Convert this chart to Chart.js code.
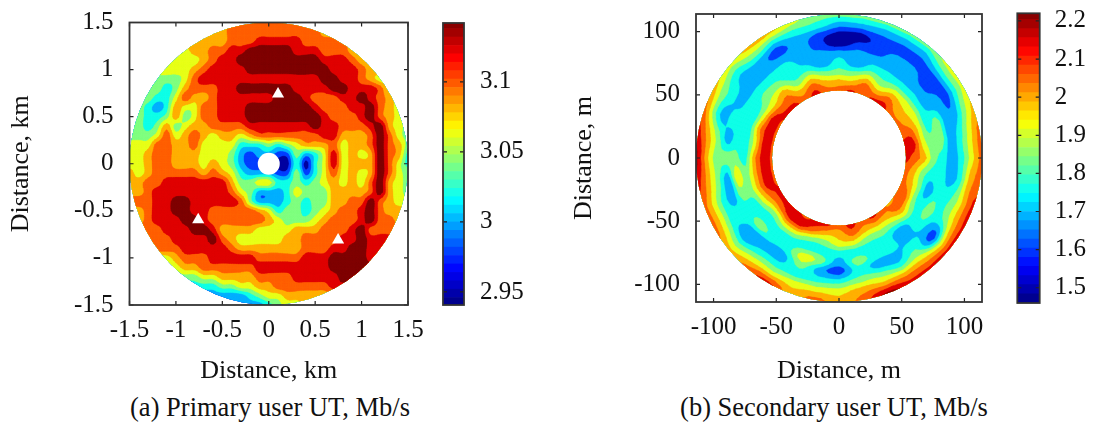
<!DOCTYPE html>
<html>
<head>
<meta charset="utf-8">
<title>Primary and secondary user UT</title>
<script src="https://cdn.jsdelivr.net/npm/chart.js@4/dist/chart.umd.js"></script>
<style>
  body { margin: 0; background: #fff; width: 1097px; height: 422px; overflow: hidden; position: relative; }
  canvas { position: absolute; top: 0; }
  .caption { position: absolute; top: 393px; width: 400px; text-align: center; font: 26.5px/28px 'Liberation Serif', serif; color: #111; white-space: nowrap; }
</style>
</head>
<body>
<canvas id="mapaA" width="430" height="387" style="left:0"></canvas>
<canvas id="barraA" width="100" height="330" style="left:430px"></canvas>
<canvas id="mapaB" width="430" height="387" style="left:565px"></canvas>
<canvas id="barraB" width="97" height="330" style="left:1000px"></canvas>
<div class="caption" style="left:70px">(a) Primary user UT, Mb/s</div>
<div class="caption" style="left:634px">(b) Secondary user UT, Mb/s</div>
<script>
// value of each contour band, lowest to highest
const bandA = [2.95, 2.97, 2.99, 3.01, 3.03, 3.05, 3.07, 3.09, 3.11, 3.13];
const bandB = [1.50, 1.57, 1.65, 1.73, 1.80, 1.88, 1.95, 2.03, 2.11, 2.18];
const bandColors = ['#0000a0', '#0040ff', '#00b0ff', '#10ffe8', '#80ff80', '#e8ff18', '#ffb000', '#ff6000', '#e00000', '#800000'];

// panel (a): cartesian grid, km
const xA = [-1.5,-1.4,-1.3,-1.2,-1.1,-1,-0.9,-0.8,-0.7,-0.6,-0.5,-0.4,-0.3,-0.2,-0.1,0,0.1,0.2,0.3,0.4,0.5,0.6,0.7,0.8,0.9,1,1.1,1.2,1.3,1.4,1.5];
const yA = [1.5,1.4,1.3,1.2,1.1,1,0.9,0.8,0.7,0.6,0.5,0.4,0.3,0.2,0.1,0,-0.1,-0.2,-0.3,-0.4,-0.5,-0.6,-0.7,-0.8,-0.9,-1,-1.1,-1.2,-1.3,-1.4,-1.5];
// band index per node, one row per yA
const gridA = [
  [4,4,5,5,5,5,6,6,6,6,6,7,7,7,7,7,7,7,7,7,7,7,7,7,7,7,7,7,7,7,7],
  [4,4,5,5,5,5,6,6,6,6,6,7,7,7,7,7,7,7,7,7,7,6,6,6,6,6,6,5,5,5,5],
  [4,4,4,5,5,5,6,6,6,6,6,7,7,7,8,8,8,8,8,7,7,7,7,7,6,6,6,6,5,5,5],
  [4,4,4,5,5,5,5,6,6,7,7,8,8,9,9,9,9,9,8,8,8,7,7,7,6,6,6,5,5,5,5],
  [4,4,4,4,5,5,5,5,6,7,8,8,9,9,9,9,9,9,9,9,9,8,8,8,7,6,6,5,5,5,5],
  [4,4,4,5,5,5,5,6,7,8,8,8,8,9,9,9,9,9,9,9,9,9,8,8,8,7,6,6,5,5,5],
  [4,4,4,4,4,4,5,7,8,8,8,8,8,8,8,8,8,8,8,8,8,9,9,8,8,7,6,5,5,5,5],
  [4,4,4,4,3,4,6,7,7,7,8,8,9,9,9,9,9,9,8,8,8,8,9,9,8,8,8,7,5,5,5],
  [4,4,4,3,3,5,7,6,6,7,8,8,8,8,8,8,9,9,9,8,7,7,7,8,8,9,8,7,6,5,5],
  [4,4,3,2,3,6,5,5,7,7,8,8,8,9,9,9,9,9,9,9,8,7,7,7,8,8,9,7,6,5,5],
  [4,4,3,3,4,6,4,5,7,7,8,8,8,9,9,9,9,9,9,9,9,8,7,7,7,8,9,7,6,5,4],
  [4,4,3,4,6,4,5,6,6,7,7,7,7,8,8,8,8,8,8,8,9,8,8,7,7,7,8,9,6,5,4],
  [4,4,4,5,7,5,6,7,6,5,6,6,5,6,7,7,7,7,7,7,7,8,8,6,6,6,7,9,7,5,4],
  [5,5,5,7,7,6,6,7,5,5,5,5,3,3,3,4,3,4,5,6,6,6,7,5,6,6,7,9,7,6,4],
  [5,5,6,7,7,6,6,6,5,5,5,4,2,1,2,2,1,1,4,2,3,5,8,5,6,5,6,9,7,6,3],
  [5,5,6,7,7,6,6,6,5,6,5,4,2,1,1,1,0,0,3,0,3,5,8,5,6,6,6,9,7,5,3],
  [6,5,6,7,7,7,7,7,6,7,6,5,3,2,2,2,1,1,4,1,3,5,7,5,6,5,6,9,7,5,4],
  [6,6,7,7,8,8,8,8,8,8,8,6,4,4,5,5,3,3,4,3,4,5,6,5,6,5,7,9,6,5,4],
  [6,6,7,8,8,8,8,8,8,8,8,7,5,4,2,2,2,3,5,4,4,4,6,6,6,6,7,9,6,5,4],
  [7,7,7,8,8,9,9,8,8,8,8,8,7,4,2,2,2,3,4,3,4,4,6,6,7,7,9,7,6,5,5],
  [6,6,7,8,8,9,9,8,8,7,7,7,7,7,6,5,3,4,4,3,4,5,6,7,7,8,9,7,6,6,6],
  [6,6,7,8,8,8,9,9,8,7,7,7,7,7,7,6,5,4,4,4,5,6,7,7,7,8,9,7,7,6,6],
  [7,7,7,7,8,8,8,9,9,8,6,6,6,6,5,5,5,5,6,6,6,7,7,7,8,9,7,7,7,7,7],
  [7,7,7,7,7,8,8,8,8,9,7,6,5,5,5,5,5,6,6,7,7,7,7,8,8,9,8,8,8,8,8],
  [7,7,7,7,7,7,8,8,8,8,8,7,6,6,6,6,6,6,6,7,7,7,8,8,9,9,8,8,8,8,8],
  [5,5,5,5,5,6,7,7,7,8,8,8,8,8,7,7,7,7,7,8,8,8,9,9,9,9,8,8,8,8,8],
  [5,5,5,5,5,5,6,6,7,7,7,7,7,7,8,8,8,8,8,8,8,8,9,9,9,9,9,9,9,9,9],
  [4,4,4,4,4,4,4,4,5,5,6,6,6,6,7,7,7,7,8,8,8,8,8,9,9,9,9,9,9,9,9],
  [3,3,3,3,3,3,3,3,3,3,4,4,5,5,6,6,7,7,7,7,7,7,8,8,8,8,8,8,8,8,8],
  [2,2,2,2,2,2,2,2,2,2,2,2,2,3,4,5,5,6,6,6,6,6,6,6,6,6,6,6,6,6,6],
  [2,2,2,2,2,2,2,2,2,2,2,2,2,2,2,3,4,5,5,6,6,6,6,6,6,6,6,6,6,6,6]
];
// hole at the centre, then the three triangles
const markerXA = [0, 0.1, -0.76, 0.747];
const markerYA = [0, 0.74, -0.594, -0.81];

// panel (b): polar grid, m
const radiiB = [52, 60, 68, 75, 83, 90, 98, 106, 115];
const anglesB = [0,10,20,30,40,50,60,70,80,90,100,110,120,130,140,150,160,170,180,190,200,210,220,230,240,250,260,270,280,290,300,310,320,330,340,350,360];
// band index per node, one row per angle
const gridB = [
  [8,7,6,4,3,2,3,5,7],
  [8,8,5,4,4,2,3,5,7],
  [7,7,5,3,4,2,2,4,6],
  [7,6,5,3,2,2,1,3,5],
  [7,6,5,3,2,1,1,3,5],
  [8,7,5,3,2,2,1,2,4],
  [8,6,4,3,2,2,1,2,4],
  [7,7,5,3,2,1,1,2,4],
  [8,6,4,2,2,1,0,2,4],
  [7,6,4,3,2,0,0,2,4],
  [7,6,4,2,2,1,1,3,4],
  [8,7,5,3,2,2,2,3,5],
  [7,6,4,3,3,2,1,3,6],
  [8,7,6,4,3,2,2,4,6],
  [8,7,5,4,3,2,2,3,5],
  [7,8,5,3,3,2,3,4,6],
  [7,8,6,3,3,3,2,4,7],
  [7,8,5,3,3,2,4,6,8],
  [7,8,6,3,4,4,4,6,9],
  [7,8,6,4,5,2,4,6,8],
  [7,8,6,4,4,2,3,5,7],
  [8,7,5,3,3,3,3,5,7],
  [8,7,4,3,4,2,2,4,6],
  [8,8,5,3,3,2,3,5,7],
  [7,8,5,3,3,2,3,5,8],
  [8,7,4,3,5,4,3,5,6],
  [8,6,4,3,4,2,3,5,7],
  [7,6,5,3,2,1,3,5,6],
  [8,7,5,3,4,3,4,6,7],
  [7,6,4,3,3,2,4,6,9],
  [8,6,4,3,3,2,3,6,8],
  [7,6,4,2,2,3,4,6,8],
  [6,7,5,3,3,2,1,5,8],
  [7,7,4,3,4,3,4,6,8],
  [7,6,4,2,3,3,4,6,8],
  [7,6,4,3,3,2,3,6,7],
  [8,7,6,4,3,2,3,5,7]
];

// tick labels
const ticksMapaA = [-1.5, -1, -0.5, 0, 0.5, 1, 1.5];
const ticksMapaB = [-100, -50, 0, 50, 100];
const ticksBarraA = [2.95, 3, 3.05, 3.1];
const ticksBarraB = [1.5, 1.6, 1.7, 1.8, 1.9, 2, 2.1, 2.2];

// colour bar steps
const pasosBarraA = [2.9407,2.946,2.952,2.958,2.964,2.97,2.976,2.982,2.988,2.994,3,3.006,3.012,3.018,3.024,3.03,3.036,3.042,3.048,3.054,3.06,3.066,3.072,3.078,3.084,3.09,3.096,3.102,3.108,3.114,3.12,3.126,3.132,3.138,3.142];
const pasosBarraB = [1.46,1.484,1.508,1.532,1.556,1.58,1.604,1.628,1.652,1.676,1.7,1.724,1.748,1.772,1.796,1.82,1.844,1.868,1.892,1.916,1.94,1.964,1.988,2.012,2.036,2.06,2.084,2.108,2.132,2.156,2.18,2.204,2.22];

const SUBDIV = 4;

Chart.defaults.font.family = "'Liberation Serif', serif";
Chart.defaults.font.size = 25;
Chart.defaults.color = '#111';
Chart.defaults.animation = false;

function jet(t) {
  const c = v => Math.round(255 * Math.max(0, Math.min(1, v)));
  return 'rgb(' + c(1.5 - Math.abs(4 * t - 3)) + ',' + c(1.5 - Math.abs(4 * t - 2)) + ',' + c(1.5 - Math.abs(4 * t - 1)) + ')';
}

// part of a grid cell at or above the level
function recortarCelda(celda, nivel) {
  const salida = [];
  for (let k = 0; k < celda.length; k++) {
    const a = celda[k], b = celda[(k + 1) % celda.length];
    if (a.v >= nivel) salida.push(a);
    if ((a.v >= nivel) !== (b.v >= nivel)) {
      const t = (nivel - a.v) / (b.v - a.v);
      salida.push({ x: a.x + t * (b.x - a.x), y: a.y + t * (b.y - a.y), v: nivel });
    }
  }
  return salida;
}

function catmull(a, b, c, d, t) {
  return 0.5 * (2 * b + (c - a) * t + (2 * a - 5 * b + 4 * c - d) * t * t + (3 * b - a - 3 * c + d) * t * t * t);
}

// paint mesh only: rounds the contour edges between the nodes the scales placed
function mallaFina(pts, data, n) {
  const filas = pts.length / n, malla = [];
  const v = (i, j) => data[Math.max(0, Math.min(filas - 1, i)) * n + Math.max(0, Math.min(n - 1, j))].v;
  for (let i = 0; i <= (filas - 1) * SUBDIV; i++) {
    const fi = Math.min(Math.floor(i / SUBDIV), filas - 2), ti = i / SUBDIV - fi;
    const fila = [];
    for (let j = 0; j <= (n - 1) * SUBDIV; j++) {
      const fj = Math.min(Math.floor(j / SUBDIV), n - 2), tj = j / SUBDIV - fj;
      const col = [];
      for (let d = -1; d <= 2; d++) col.push(catmull(v(fi - 1, fj + d), v(fi, fj + d), v(fi + 1, fj + d), v(fi + 2, fj + d), ti));
      const p00 = pts[fi * n + fj], p01 = pts[fi * n + fj + 1], p10 = pts[(fi + 1) * n + fj], p11 = pts[(fi + 1) * n + fj + 1];
      fila.push({
        x: (p00.x * (1 - tj) + p01.x * tj) * (1 - ti) + (p10.x * (1 - tj) + p11.x * tj) * ti,
        y: (p00.y * (1 - tj) + p01.y * tj) * (1 - ti) + (p10.y * (1 - tj) + p11.y * tj) * ti,
        v: catmull(col[0], col[1], col[2], col[3], tj)
      });
    }
    malla.push(fila);
  }
  return malla;
}

// fills dataset 0 as contour bands, from the points the scales positioned
const pluginContorno = {
  id: 'contorno',
  beforeDatasetsDraw(chart) {
    const ds = chart.data.datasets[0];
    if (!ds.nodosPorFila) return;
    const ctx = chart.ctx, sx = chart.scales.x, sy = chart.scales.y;
    const malla = mallaFina(chart.getDatasetMeta(0).data, ds.data, ds.nodosPorFila);
    const cx = sx.getPixelForValue(0), cy = sy.getPixelForValue(0);
    const rx = sx.getPixelForValue(ds.radioExt) - cx, ry = cy - sy.getPixelForValue(ds.radioExt);

    ctx.save();
    ctx.beginPath();
    ctx.ellipse(cx, cy, rx, ry, 0, 0, Math.PI * 2);
    if (ds.radioInt) {
      ctx.moveTo(cx + rx * ds.radioInt / ds.radioExt, cy);
      ctx.ellipse(cx, cy, rx * ds.radioInt / ds.radioExt, ry * ds.radioInt / ds.radioExt, 0, 0, Math.PI * 2);
    }
    ctx.clip('evenodd');

    ctx.fillStyle = bandColors[0];
    ctx.fillRect(chart.chartArea.left, chart.chartArea.top, chart.chartArea.width, chart.chartArea.height);

    for (let b = 1; b < ds.bandas.length; b++) {
      const nivel = (ds.bandas[b - 1] + ds.bandas[b]) / 2;
      ctx.beginPath();
      for (let i = 0; i < malla.length - 1; i++) {
        for (let j = 0; j < malla[i].length - 1; j++) {
          const poli = recortarCelda([malla[i][j], malla[i][j + 1], malla[i + 1][j + 1], malla[i + 1][j]], nivel);
          if (poli.length < 3) continue;
          ctx.moveTo(poli[0].x, poli[0].y);
          for (let k = 1; k < poli.length; k++) ctx.lineTo(poli[k].x, poli[k].y);
          ctx.closePath();
        }
      }
      ctx.fillStyle = bandColors[b];
      ctx.fill();
      // hairline stroke closes the seams between cells
      ctx.strokeStyle = bandColors[b];
      ctx.lineWidth = 0.4;
      ctx.stroke();
    }
    ctx.restore();
  }
};

// gnuplot style frame, ticks point inwards
const pluginMarco = {
  id: 'marco',
  afterDatasetsDraw(chart) {
    const ctx = chart.ctx, a = chart.chartArea;
    ctx.save();
    ctx.strokeStyle = '#222';
    ctx.lineWidth = 1.2;
    ctx.beginPath();
    chart.scales.y.ticks.forEach(t => {
      const p = chart.scales.y.getPixelForValue(t.value);
      ctx.moveTo(a.left, p); ctx.lineTo(a.left + 4, p);
      ctx.moveTo(a.right, p); ctx.lineTo(a.right - 4, p);
    });
    if (chart.options.scales.x.display !== false) {
      chart.scales.x.ticks.forEach(t => {
        const p = chart.scales.x.getPixelForValue(t.value);
        ctx.moveTo(p, a.top); ctx.lineTo(p, a.top + 4);
        ctx.moveTo(p, a.bottom); ctx.lineTo(p, a.bottom - 4);
      });
    }
    ctx.stroke();
    ctx.lineWidth = 1.8;
    ctx.strokeStyle = '#333';
    ctx.strokeRect(a.left, a.top, a.width, a.height);
    ctx.restore();
  }
};

function fijarTicks(valores) {
  return s => { s.ticks = valores.map(v => ({ value: v })); };
}

// fixed axis size, and labels must not push the plot area
function fijarCaja(s, ancho, alto) {
  if (ancho !== null) s.width = ancho;
  if (alto !== null) s.height = alto;
  s.paddingTop = s.paddingBottom = s.paddingLeft = s.paddingRight = 0;
}

function crearMapa(id, datasets, rango, ticks, unidad, caja) {
  return new Chart(document.getElementById(id), {
    type: 'scatter',
    data: { datasets: datasets },
    options: {
      responsive: false,
      events: [],
      layout: { padding: { top: caja.arriba, right: caja.derecha, left: 0, bottom: 0 } },
      plugins: { legend: { display: false }, tooltip: { enabled: false } },
      scales: {
        x: {
          min: -rango, max: rango,
          afterBuildTicks: fijarTicks(ticks),
          afterFit: s => fijarCaja(s, null, caja.alto),
          grid: { drawOnChartArea: false, drawTicks: false },
          border: { display: false },
          ticks: { padding: caja.padX, maxRotation: 0, autoSkip: false, callback: v => String(v) },
          title: { display: true, text: 'Distance, ' + unidad, font: { size: 26 }, padding: 0 }
        },
        y: {
          min: -rango, max: rango,
          afterBuildTicks: fijarTicks(ticks),
          afterFit: s => fijarCaja(s, caja.ancho, null),
          grid: { drawOnChartArea: false, drawTicks: false },
          border: { display: false },
          ticks: { padding: caja.padY, autoSkip: false, callback: v => String(v) },
          title: { display: true, text: 'Distance, ' + unidad, font: { size: 26 }, padding: { top: caja.padTitulo, bottom: 0 } }
        }
      }
    },
    plugins: [pluginContorno, pluginMarco]
  });
}

function crearBarra(id, pasos, ticks, caja) {
  const min = pasos[0], max = pasos[pasos.length - 1];
  const datasets = [];
  for (let i = 0; i < pasos.length - 1; i++) {
    datasets.push({
      data: [[pasos[i], pasos[i + 1]]],
      backgroundColor: jet(((pasos[i] + pasos[i + 1]) / 2 - min) / (max - min)),
      grouped: false, barPercentage: 1, categoryPercentage: 1, borderWidth: 0
    });
  }
  return new Chart(document.getElementById(id), {
    type: 'bar',
    data: { labels: ['UT'], datasets: datasets },
    options: {
      responsive: false,
      events: [],
      layout: { padding: { top: caja.arriba, left: caja.izquierda, bottom: caja.abajo, right: 0 } },
      plugins: { legend: { display: false }, tooltip: { enabled: false } },
      scales: {
        x: { display: false },
        y: {
          position: 'right', min: min, max: max,
          afterBuildTicks: fijarTicks(ticks),
          afterFit: s => fijarCaja(s, caja.ancho, null),
          grid: { drawOnChartArea: false, drawTicks: false },
          border: { display: false },
          ticks: { padding: caja.pad, autoSkip: false, callback: v => String(v) }
        }
      }
    },
    plugins: [pluginMarco]
  });
}

// panel (a)
const nodosA = [];
yA.forEach((y, i) => xA.forEach((x, j) => nodosA.push({ x: x, y: y, v: bandA[gridA[i][j]] })));
const marcasA = markerXA.map((x, i) => ({ x: x, y: markerYA[i] }));
crearMapa('mapaA', [
  { data: nodosA, pointRadius: 0, nodosPorFila: xA.length, bandas: bandA, radioExt: 1.5 },
  { data: marcasA, backgroundColor: '#fff', borderWidth: 0, pointStyle: ['circle', 'triangle', 'triangle', 'triangle'], pointRadius: [11, 7, 7, 7] }
], 1.5, ticksMapaA, 'km', { arriba: 22.5, derecha: 22, alto: 82, ancho: 129.5, padX: 10, padY: 16, padTitulo: 6 });
crearBarra('barraA', pasosBarraA, ticksBarraA, { arriba: 23, abajo: 25, izquierda: 13, ancho: 66, pad: 16 });

// panel (b)
const nodosB = [];
anglesB.forEach((ang, i) => radiiB.forEach((r, j) => {
  nodosB.push({ x: r * Math.cos(ang * Math.PI / 180), y: r * Math.sin(ang * Math.PI / 180), v: bandB[gridB[i][j]] });
}));
crearMapa('mapaB', [
  { data: nodosB, pointRadius: 0, nodosPorFila: radiiB.length, bandas: bandB, radioExt: 114, radioInt: 53.4 }
], 114, ticksMapaB, 'm', { arriba: 14, derecha: 13, alto: 85, ancho: 131, padX: 10, padY: 16, padTitulo: 4 });
crearBarra('barraB', pasosBarraB, ticksBarraB, { arriba: 13.3, abajo: 27, izquierda: 17.3, ancho: 57.3, pad: 15 });
</script>
</body>
</html>
